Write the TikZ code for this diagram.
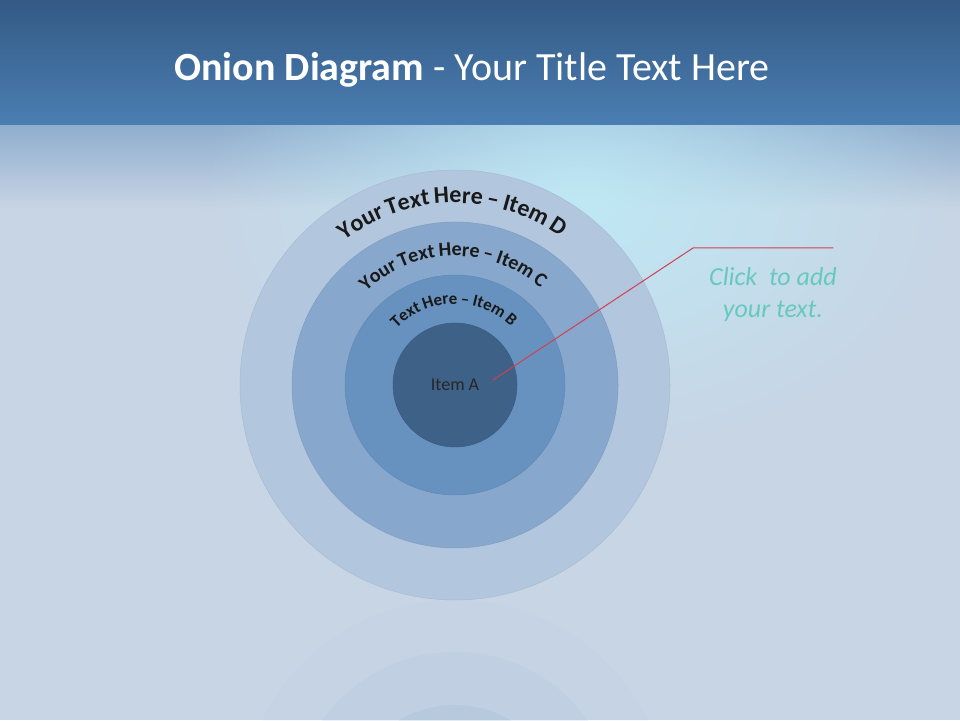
\documentclass[tikz,border=0pt]{standalone}
\usepackage{fontspec}
\setmainfont{Carlito}
\usetikzlibrary{decorations.text,fadings}
\definecolor{barTop}{RGB}{52,90,133}
\definecolor{barBot}{RGB}{74,126,178}
\definecolor{bodyBlue}{RGB}{200,213,229}
\definecolor{glowCyan}{RGB}{190,234,246}
\definecolor{ringD}{RGB}{178,199,222}
\definecolor{ringC}{RGB}{135,168,204}
\definecolor{ringB}{RGB}{103,146,191}
\definecolor{ringA}{RGB}{62,97,136}
\definecolor{calloutRed}{RGB}{208,64,82}
\definecolor{noteTeal}{RGB}{104,200,192}
\tikzfading[name=glowfade,inner color=transparent!0,outer color=transparent!100]
\begin{document}
\begin{tikzpicture}[x=1pt,y=1pt,line cap=round,line join=round,
  ring/.style={circle,inner sep=0pt,draw=#1!94!black,line width=.5pt,fill=#1},
  ringtext/.style={decorate,decoration={text along path,text align=center,text color=black!90}},
  note/.style={align=center,text=noteTeal,font=\fontsize{26}{32}\selectfont\itshape}]
  \useasboundingbox (0,0) rectangle (960,720);
  % background: pale textured body, dark title band on top
  \fill[bodyBlue] (0,0) rectangle (960,720);
  \shade[top color=barBot!45!bodyBlue,bottom color=bodyBlue] (0,510) rectangle (960,595);
  \fill[glowCyan,opacity=.9,path fading=glowfade] (580,520) ellipse (380 and 260);
  \shade[top color=barTop,bottom color=barBot] (0,595) rectangle (960,720);
  \node[anchor=base,text=white,font=\fontsize{40}{40}\selectfont] (title) at (472,639)
    {\textbf{Onion Diagram} - Your Title Text Here};

  % faint reflection under the onion
  \begin{scope}[opacity=.09]
    \clip (0,0) rectangle (960,120);
    \fill[ringD] (455,-95) circle (215);
    \fill[ringC] (455,-95) circle (163);
    \fill[ringB] (455,-95) circle (110);
  \end{scope}

  \coordinate (ctr) at (455,335);
  \node[ring=ringD,minimum size=430pt] (itemD) at (ctr) {};
  \node[ring=ringC,minimum size=326pt] (itemC) at (ctr) {};
  \node[ring=ringB,minimum size=220pt] (itemB) at (ctr) {};
  \node[ring=ringA,minimum size=124pt,text=black!85,font=\fontsize{18}{18}\selectfont] (itemA) at (ctr) {Item A};

  \path[ringtext,decoration={text={|\bfseries\fontsize{24}{24}\selectfont\addfontfeature{LetterSpace=-6}|Your Text Here – Item D}}]
    ([shift={(171:182)}]ctr) arc (171:11:182);
  \path[ringtext,decoration={text={|\bfseries\fontsize{20}{20}\selectfont\addfontfeature{LetterSpace=-5}|Your Text Here – Item C}}]
    ([shift={(171:129)}]ctr) arc (171:11:129);
  \path[ringtext,decoration={text={|\bfseries\fontsize{17}{17}\selectfont\addfontfeature{LetterSpace=-5}|Text Here – Item B}}]
    ([shift={(176:81)}]ctr) arc (176:6:81);

  % callout to the note
  \coordinate (tipA) at (493,340);
  \coordinate (elbow) at (693,472);
  \coordinate (lineEnd) at (833,472);
  \node[note] (noteText) at (773,425) {Click\ \ to add\\your text.};
  \draw[calloutRed,line width=1pt] (tipA) -- (elbow) -- (lineEnd);
\end{tikzpicture}
\end{document}
